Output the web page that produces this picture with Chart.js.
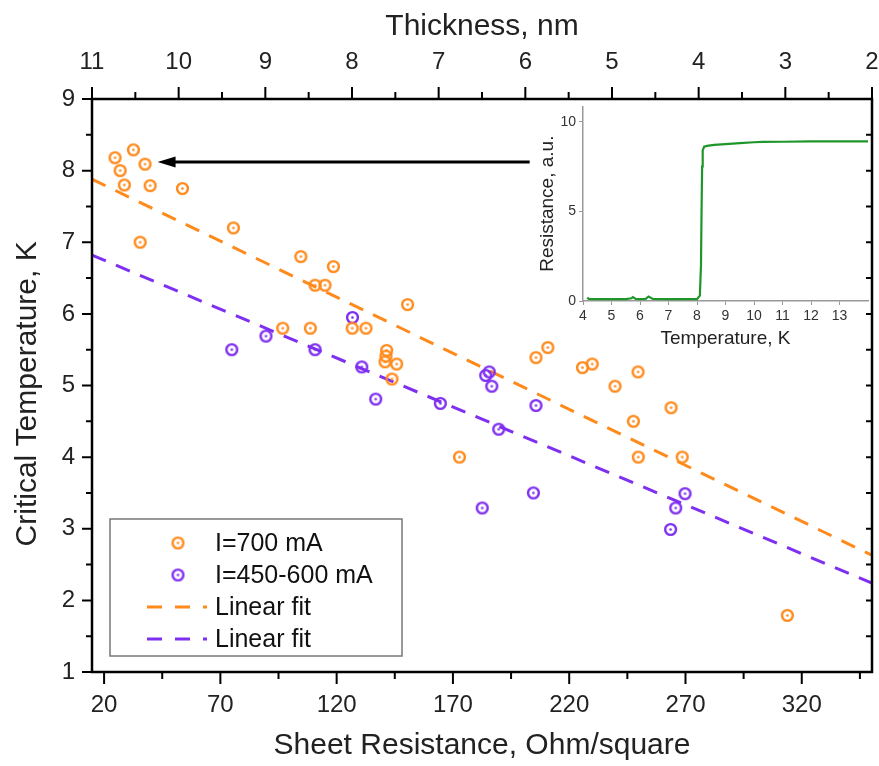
<!DOCTYPE html>
<html>
<head>
<meta charset="utf-8">
<script src="https://cdn.jsdelivr.net/npm/chart.js@4.4.0/dist/chart.umd.min.js"></script>
<style>
  body { margin: 0; background: #fff; }
  #wrap { position: relative; width: 879px; height: 766px; }
  #main { position: absolute; left: 0; top: 0; }
  #inset { position: absolute; left: 528px; top: 95px; }
</style>
</head>
<body>
<div id="wrap">
  <canvas id="main" width="879" height="766"></canvas>
  <canvas id="inset" width="347" height="262"></canvas>
</div>
<script>
// I=700 mA : sheet resistance (Ohm/sq) and critical temperature (K)
var rs700 = [24.7, 32.6, 37.6, 26.9, 28.7, 39.8, 53.7, 75.6, 35.5, 104.6, 118.6, 110.7, 115.0,
             150.5, 96.8, 108.7, 126.7, 132.6, 141.5, 141.2, 140.8, 145.8, 143.8, 205.7, 210.8,
             225.7, 229.9, 172.8, 249.6, 239.7, 263.8, 247.6, 249.7, 268.6, 313.8];
var tc700 = [8.18, 8.29, 8.09, 8.0, 7.80, 7.79, 7.75, 7.20, 7.0, 6.80, 6.66, 6.40, 6.40,
             6.13, 5.80, 5.80, 5.80, 5.80, 5.49, 5.41, 5.33, 5.30, 5.09, 5.39, 5.53,
             5.25, 5.30, 4.0, 5.19, 4.99, 4.69, 4.50, 4.0, 4.0, 1.79];

// I=450-600 mA
var rs450 = [126.8, 89.6, 74.9, 110.7, 130.8, 136.8, 164.6, 185.6, 184.1, 186.7, 205.7,
             189.7, 204.6, 182.6, 269.8, 265.8, 263.6];
var tc450 = [5.95, 5.69, 5.50, 5.50, 5.26, 4.81, 4.75, 5.19, 5.14, 4.99, 4.72,
             4.39, 3.50, 3.29, 3.49, 3.29, 2.99];

// linear fits, end points
var fit700X = [14.8, 350.2], fit700Y = [7.88, 2.63];
var fit450X = [14.8, 350.2], fit450Y = [6.82, 2.24];

// inset: R(T)
var insetT = [4.15, 4.2, 4.5, 5.0, 5.5, 5.7, 5.75, 5.85, 6.0, 6.2, 6.3, 6.45, 7.0, 7.5, 8.0, 8.1,
              8.14, 8.16, 8.18, 8.2, 8.25, 8.35, 8.6, 9.0, 9.5, 10.0, 10.3, 11, 12, 13, 14];
var insetR = [0.2, 0.12, 0.1, 0.1, 0.1, 0.15, 0.22, 0.12, 0.1, 0.12, 0.25, 0.12, 0.1, 0.1, 0.1, 0.3,
              2.0, 5.0, 7.5, 8.4, 8.6, 8.65, 8.7, 8.75, 8.8, 8.85, 8.87, 8.88, 8.9, 8.9, 8.9];

// ticks
var xMajor = [20, 70, 120, 170, 220, 270, 320];
var xMinor = [45, 95, 145, 195, 245, 295, 345];
var yMajor = [1, 2, 3, 4, 5, 6, 7, 8, 9];
var yMinor = [1.5, 2.5, 3.5, 4.5, 5.5, 6.5, 7.5, 8.5];
var thickMajor = [2, 3, 4, 5, 6, 7, 8, 9, 10, 11];
var thickMinor = [2.5, 3.5, 4.5, 5.5, 6.5, 7.5, 8.5, 9.5, 10.5];
var insetXTicks = [4, 5, 6, 7, 8, 9, 10, 11, 12, 13];
var insetYTicks = [0, 5, 10];

var ORANGE = '#ff8a1c';
var PURPLE = '#7f2ff0';
var FONT = '"Liberation Sans", Arial, sans-serif';
Chart.defaults.font.family = FONT;

function pts(xs, ys) {
  return xs.map(function(v, i) { return {x: v, y: ys[i]}; });
}

// circle with a dot in the middle
function ringMark(color) {
  var c = document.createElement('canvas');
  c.width = 15; c.height = 15;
  var g = c.getContext('2d');
  g.strokeStyle = color; g.lineWidth = 2.4;
  g.beginPath(); g.arc(7.5, 7.5, 5.4, 0, Math.PI * 2); g.stroke();
  g.fillStyle = color;
  g.beginPath(); g.arc(7.5, 7.5, 1.3, 0, Math.PI * 2); g.fill();
  return c;
}

function setTicks(list) {
  return function(s) { s.ticks = list.map(function(v) { return {value: v}; }); };
}

var frameTicks = {
  id: 'frameTicks',
  afterDraw: function(chart) {
    var ctx = chart.ctx, a = chart.chartArea;
    var sx = chart.scales.x, sy = chart.scales.y, st = chart.scales.x2;
    ctx.save();
    ctx.strokeStyle = '#000';
    ctx.lineWidth = 2;
    ctx.beginPath();
    xMajor.forEach(function(v) { var p = sx.getPixelForValue(v); ctx.moveTo(p, a.bottom); ctx.lineTo(p, a.bottom + 12); });
    xMinor.forEach(function(v) { var p = sx.getPixelForValue(v); ctx.moveTo(p, a.bottom); ctx.lineTo(p, a.bottom + 7); });
    thickMajor.forEach(function(v) { var p = st.getPixelForValue(v); ctx.moveTo(p, a.top); ctx.lineTo(p, a.top - 12); });
    thickMinor.forEach(function(v) { var p = st.getPixelForValue(v); ctx.moveTo(p, a.top); ctx.lineTo(p, a.top - 7); });
    yMajor.forEach(function(v) {
      var p = sy.getPixelForValue(v);
      ctx.moveTo(a.left, p); ctx.lineTo(a.left - 10, p);
      ctx.moveTo(a.right, p); ctx.lineTo(a.right - 6, p);
    });
    yMinor.forEach(function(v) {
      var p = sy.getPixelForValue(v);
      ctx.moveTo(a.left, p); ctx.lineTo(a.left - 6, p);
      ctx.moveTo(a.right, p); ctx.lineTo(a.right - 6, p);
    });
    ctx.stroke();
    ctx.lineWidth = 2.5;
    ctx.strokeRect(a.left, a.top, a.right - a.left, a.bottom - a.top);
    ctx.restore();
  }
};

// arrow pointing from the inset to the cluster, in data units
var arrowFrom = [203, 8.12], arrowTo = [43, 8.12];
var arrowPlugin = {
  id: 'arrowPlugin',
  afterDatasetsDraw: function(chart) {
    var ctx = chart.ctx, sx = chart.scales.x, sy = chart.scales.y;
    var x1 = sx.getPixelForValue(arrowFrom[0]), y1 = sy.getPixelForValue(arrowFrom[1]);
    var x2 = sx.getPixelForValue(arrowTo[0]), y2 = sy.getPixelForValue(arrowTo[1]);
    ctx.save();
    ctx.strokeStyle = '#000'; ctx.fillStyle = '#000'; ctx.lineWidth = 3;
    ctx.beginPath(); ctx.moveTo(x1, y1); ctx.lineTo(x2 + 12, y2); ctx.stroke();
    ctx.beginPath();
    ctx.moveTo(x2, y2); ctx.lineTo(x2 + 18, y2 - 5.5); ctx.lineTo(x2 + 18, y2 + 5.5);
    ctx.closePath(); ctx.fill();
    ctx.restore();
  }
};

var boxLegend = {
  id: 'boxLegend',
  afterDraw: function(chart) {
    var ctx = chart.ctx, a = chart.chartArea;
    var x0 = a.left + 18, y0 = a.bottom - 153, w = 292, h = 137;
    ctx.save();
    ctx.fillStyle = '#fff';
    ctx.fillRect(x0, y0, w, h);
    ctx.strokeStyle = '#777'; ctx.lineWidth = 1.5;
    ctx.strokeRect(x0, y0, w, h);
    ctx.font = '25px ' + FONT;
    ctx.textBaseline = 'middle';
    ctx.fillStyle = '#111';
    chart.data.datasets.forEach(function(ds, i) {
      var cy = y0 + 24 + i * 32;
      if (ds.showLine) {
        ctx.save();
        ctx.strokeStyle = ds.borderColor; ctx.lineWidth = 3;
        ctx.setLineDash([15, 13]);
        ctx.beginPath(); ctx.moveTo(x0 + 37, cy); ctx.lineTo(x0 + 97, cy); ctx.stroke();
        ctx.restore();
      } else {
        ctx.drawImage(ds.pointStyle, x0 + 68 - 7.5, cy - 7.5);
      }
      ctx.fillText(ds.label, x0 + 105, cy + 1);
    });
    ctx.restore();
  }
};

new Chart(document.getElementById('main'), {
  type: 'scatter',
  data: {
    datasets: [
      { label: 'I=700 mA', data: pts(rs700, tc700), pointStyle: ringMark(ORANGE), showLine: false },
      { label: 'I=450-600 mA', data: pts(rs450, tc450), pointStyle: ringMark(PURPLE), showLine: false },
      { label: 'Linear fit', data: pts(fit700X, fit700Y), showLine: true, borderColor: ORANGE,
        borderWidth: 3, borderDash: [15, 11], pointRadius: 0 },
      { label: 'Linear fit', data: pts(fit450X, fit450Y), showLine: true, borderColor: PURPLE,
        borderWidth: 3, borderDash: [15, 11], pointRadius: 0 }
    ]
  },
  options: {
    responsive: false,
    animation: false,
    layout: { padding: { right: 7 } },
    plugins: { legend: { display: false }, tooltip: { enabled: false } },
    scales: {
      x: {
        type: 'linear', position: 'bottom', min: 14.8, max: 350.2,
        afterBuildTicks: setTicks(xMajor),
        afterFit: function(s) { s.height = 94; },
        grid: { display: false, drawTicks: false }, border: { display: false },
        ticks: { padding: 19, font: { size: 24 }, color: '#222' },
        title: { display: true, text: 'Sheet Resistance, Ohm/square', font: { size: 30 }, color: '#222',
                 padding: { top: 0, bottom: 2 } }
      },
      x2: {
        type: 'linear', position: 'top', min: 2, max: 11, reverse: true,
        afterBuildTicks: setTicks(thickMajor),
        afterFit: function(s) { s.height = 99; },
        grid: { display: false, drawTicks: false }, border: { display: false },
        ticks: { padding: 22, font: { size: 24 }, color: '#222' },
        title: { display: true, text: 'Thickness, nm', font: { size: 30 }, color: '#222',
                 padding: { top: 9, bottom: 0 } }
      },
      y: {
        min: 1, max: 9,
        afterBuildTicks: setTicks(yMajor),
        afterFit: function(s) { s.width = 92; },
        grid: { display: false, drawTicks: false }, border: { display: false },
        ticks: { padding: 17, font: { size: 24 }, color: '#222' },
        title: { display: true, text: 'Critical Temperature, K  ', font: { size: 30 }, color: '#222',
                 padding: { top: 10, bottom: 0 } }
      }
    }
  },
  plugins: [frameTicks, arrowPlugin, boxLegend]
});

new Chart(document.getElementById('inset'), {
  type: 'line',
  data: {
    datasets: [{ data: pts(insetT, insetR), borderColor: '#1f962a', borderWidth: 2.2, pointRadius: 0 }]
  },
  options: {
    responsive: false,
    animation: false,
    layout: { padding: { top: 7, right: 7 } },
    plugins: { legend: { display: false }, tooltip: { enabled: false } },
    scales: {
      x: {
        type: 'linear', min: 4, max: 14,
        afterBuildTicks: setTicks(insetXTicks),
        afterFit: function(s) { s.height = 56; },
        grid: { drawOnChartArea: false, tickLength: 4, color: '#999' },
        border: { color: '#999', width: 1.5 },
        ticks: { padding: 3, font: { size: 14 }, color: '#333' },
        title: { display: true, text: 'Temperature, K', font: { size: 19 }, color: '#222',
                 padding: { top: 0, bottom: 7 } }
      },
      y: {
        min: 0, max: 10.85,
        afterBuildTicks: setTicks(insetYTicks),
        afterFit: function(s) { s.width = 55; },
        grid: { drawOnChartArea: false, tickLength: 4, color: '#999' },
        border: { color: '#999', width: 1.5 },
        ticks: { padding: 3, font: { size: 14 }, color: '#333' },
        title: { display: true, text: 'Resistance, a.u.', font: { size: 19 }, color: '#222',
                 padding: { top: 8, bottom: 0 } }
      }
    }
  }
});
</script>
</body>
</html>
